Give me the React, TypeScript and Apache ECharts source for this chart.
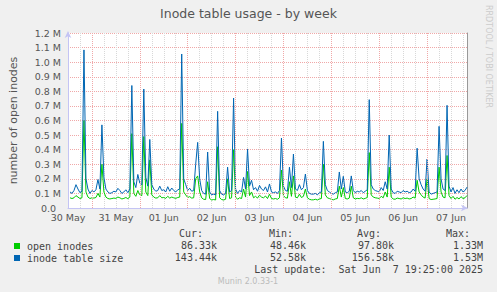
import React, { useEffect, useRef } from "react";
import * as echarts from "echarts";

// x values are hours since 30 May 00:00; first sample at hour 13, one sample per hour
const START_HOUR = 13;
const dayLabels = ["30 May", "31 May", "01 Jun", "02 Jun", "03 Jun", "04 Jun", "05 Jun", "06 Jun", "07 Jun"];
const midnightHours = [24, 48, 72, 96, 120, 144, 168, 192];

// values in thousands (k)
const openInodes = [
  70, 65, 70, 85, 75, 65, 70, 600, 110, 75,
  65, 70, 68, 72, 100, 75, 300, 110, 75, 65,
  62, 65, 68, 66, 75, 70, 62, 66, 72, 64,
  75, 510, 100, 80, 120, 90, 85, 490, 110, 85,
  330, 90, 75, 68, 70, 85, 70, 72, 66, 80,
  68, 75, 70, 66, 72, 75, 580, 110, 90, 72,
  78, 68, 70, 200, 220, 110, 70, 60, 58, 180,
  65, 55, 58, 55, 420, 70, 58, 55, 60, 200,
  65, 70, 400, 75, 60, 70, 65, 130, 75, 250,
  85, 110, 70, 80, 68, 88, 75, 70, 82, 65,
  95, 65, 62, 65, 60, 70, 260, 85, 70, 68,
  180, 80, 220, 75, 70, 95, 72, 80, 130, 70,
  60, 56, 56, 60, 55, 62, 65, 300, 90, 70,
  65, 60, 56, 62, 65, 150, 75, 140, 65, 62,
  68, 150, 70, 62, 66, 64, 70, 62, 66, 72,
  380, 90, 75, 70, 68, 65, 80, 70, 110, 75,
  280, 75, 62, 60, 68, 65, 62, 70, 65, 68,
  62, 65, 75, 68, 190, 110, 90, 75, 68, 200,
  65, 58, 60, 62, 65, 280, 110, 75, 70, 360,
  85, 65, 80, 60, 72, 62, 78, 65, 70, 86,
];

const inodeTableSize = [
  110, 100, 120, 160, 130, 105, 115, 1084, 200, 130,
  100, 120, 110, 125, 195, 130, 570, 210, 130, 110,
  100, 105, 115, 110, 135, 120, 100, 110, 125, 105,
  130, 840, 180, 140, 230, 170, 160, 816, 210, 150,
  470, 160, 130, 115, 120, 150, 120, 125, 110, 146,
  115, 137, 120, 110, 125, 130, 1056, 200, 160, 120,
  135, 115, 120, 300, 450, 200, 120, 100, 95, 384,
  110, 90, 95, 90, 663, 120, 95, 90, 100, 280,
  110, 120, 754, 130, 100, 120, 110, 210, 130, 405,
  150, 190, 125, 140, 115, 155, 130, 120, 145, 110,
  165, 110, 105, 110, 100, 120, 480, 150, 120, 115,
  280, 140, 370, 130, 120, 160, 125, 140, 233, 120,
  100, 95, 95, 100, 90, 105, 110, 457, 160, 120,
  110, 100, 95, 105, 110, 247, 130, 217, 110, 105,
  115, 220, 120, 105, 115, 110, 120, 105, 115, 125,
  743, 160, 130, 120, 115, 110, 140, 120, 180, 130,
  500, 130, 105, 100, 115, 110, 105, 120, 110, 115,
  105, 110, 130, 115, 410, 200, 160, 130, 115, 336,
  110, 95, 100, 105, 110, 560, 200, 130, 120, 704,
  150, 110, 140, 100, 125, 105, 130, 110, 120, 143,
];

const seriesNames = ["open inodes", "inode table size"];
const statHeaders = ["Cur:", "Min:", "Avg:", "Max:"];
const openStats = ["86.33k", "48.46k", "97.80k", "1.33M"];
const sizeStats = ["143.44k", "52.58k", "156.58k", "1.53M"];
const lastUpdate = "Last update:\u00a0 Sat Jun\u00a0 7 19:25:00 2025";
const footer = "Munin 2.0.33-1";
const sideText = "RRDTOOL / TOBI OETIKER";

const GREEN = "#00cc00";
const BLUE = "#0066b3";
const AXIS = "#c4c4f4";
const MONO = '"DejaVu Sans Mono", monospace';
const SANS = '"DejaVu Sans", sans-serif';

export default function App() {
  const ref = useRef<HTMLDivElement>(null);
  useEffect(() => {
    if (!ref.current) return;
    const chart = echarts.init(ref.current, undefined, { renderer: "svg" });
    const toPairs = (arr: number[]) => arr.map((v, i) => [START_HOUR + i, v]);

    const headerX = [203, 293, 381, 470];
    const valueX = [217, 306, 394, 483];
    const graphics: any[] = [];
    statHeaders.forEach((t, i) =>
      graphics.push({
        type: "text",
        style: { text: t, x: headerX[i], y: 233, font: `10px ${MONO}`, fill: "#444", align: "right", verticalAlign: "middle", textAlign: "right", textVerticalAlign: "middle" },
      })
    );
    [openStats, sizeStats].forEach((row, r) =>
      row.forEach((t, i) =>
        graphics.push({
          type: "text",
          style: { text: t, x: valueX[i], y: 245.7 + r * 12, font: `10px ${MONO}`, fill: "#444", align: "right", verticalAlign: "middle", textAlign: "right", textVerticalAlign: "middle" },
        })
      )
    );
    graphics.push({
      type: "text",
      style: { text: lastUpdate, x: 483, y: 269.5, font: `10px ${MONO}`, fill: "#444", align: "right", verticalAlign: "middle", textAlign: "right", textVerticalAlign: "middle" },
    });
    graphics.push({
      type: "text",
      style: { text: footer, x: 248, y: 281, font: `8px ${SANS}`, fill: "#bbb", align: "center", verticalAlign: "middle", textAlign: "center", textVerticalAlign: "middle" },
    });
    graphics.push({
      type: "text",
      x: 488.5,
      y: 56.5,
      rotation: -Math.PI / 2,
      style: { text: sideText, x: 0, y: 0, font: `8px ${SANS}`, fill: "#ccc", align: "center", verticalAlign: "middle", textAlign: "center", textVerticalAlign: "middle" },
    });

    chart.setOption({
      animation: false,
      backgroundColor: "#f0f0f0",
      title: {
        text: "Inode table usage - by week",
        left: "center",
        top: 7,
        padding: 0,
        textStyle: { fontFamily: SANS, fontSize: 12.5, fontWeight: "normal", color: "#555" },
      },
      legend: {
        data: seriesNames,
        orient: "vertical",
        left: 14,
        top: 240,
        padding: 0,
        itemGap: 0,
        itemWidth: 6,
        itemHeight: 6,
        icon: "rect",
        selectedMode: false,
        textStyle: { fontFamily: MONO, fontSize: 10, color: "#444", lineHeight: 12, padding: [0, 0, 0, 2] },
      },
      grid: { left: 67, top: 33, width: 400, height: 175, show: true, backgroundColor: "#fff", borderWidth: 0 },
      xAxis: {
        type: "value",
        min: 12,
        max: 212,
        interval: 6,
        axisLine: { show: true, onZero: false, lineStyle: { color: AXIS }, symbol: ["none", "arrow"], symbolSize: [5, 7], symbolOffset: [0, 1] },
        axisTick: { show: false },
        axisLabel: {
          margin: 4,
          fontFamily: SANS,
          fontSize: 9.5,
          color: "#555",
          formatter: (v: number) => ((v - 12) % 24 === 0 ? dayLabels[(v - 12) / 24] || "" : ""),
        },
        splitLine: { show: true, lineStyle: { color: "#d8d8d8", type: [1, 1], width: 1 } },
      },
      yAxis: [
        {
          type: "value",
          min: 0,
          max: 1200,
          interval: 100,
          position: "left",
          name: "number of open inodes",
          nameLocation: "middle",
          nameGap: 49,
          nameRotate: 90,
          nameTextStyle: { fontFamily: SANS, fontSize: 11, color: "#555" },
          axisLine: { show: true, lineStyle: { color: AXIS }, symbol: ["none", "arrow"], symbolSize: [5, 7], symbolOffset: [0, 2] },
          axisTick: { show: false },
          axisLabel: {
            margin: 7,
            fontFamily: SANS,
            fontSize: 9.5,
            color: "#555",
            formatter: (v: number) => (v === 0 ? "{z|0.0}" : (v / 1000).toFixed(1) + " M"),
            rich: { z: { fontFamily: SANS, fontSize: 9.5, color: "#555", padding: [0, 5, 0, 0] } },
          },
          splitLine: { show: true, lineStyle: { color: "#f0a8a8", type: [1, 1], width: 1 } },
        },
        {
          type: "value",
          min: 0,
          max: 1200,
          position: "right",
          axisLine: { show: true, onZero: false, lineStyle: { color: "#999" } },
          axisTick: { show: false },
          axisLabel: { show: false },
          splitLine: { show: false },
        },
      ],
      series: [
        {
          name: "gridlines",
          type: "line",
          data: [],
          z: 1,
          silent: true,
          markLine: {
            silent: true,
            symbol: ["none", "none"],
            label: { show: false },
            lineStyle: { color: "#f0a8a8", type: [1, 1], width: 1 },
            emphasis: { disabled: true },
            data: midnightHours.map((h) => ({ xAxis: h })),
          },
        },
        {
          name: seriesNames[0],
          type: "line",
          data: toPairs(openInodes),
          symbol: "none",
          z: 3,
          lineStyle: { color: GREEN, width: 1 },
          itemStyle: { color: GREEN },
        },
        {
          name: seriesNames[1],
          type: "line",
          data: toPairs(inodeTableSize),
          symbol: "none",
          z: 4,
          lineStyle: { color: BLUE, width: 1 },
          itemStyle: { color: BLUE },
        },
      ],
      graphic: graphics,
    });
    return () => chart.dispose();
  }, []);
  return <div ref={ref} style={{ position: "absolute", left: 0, top: 0, width: 497, height: 292 }} />;
}
